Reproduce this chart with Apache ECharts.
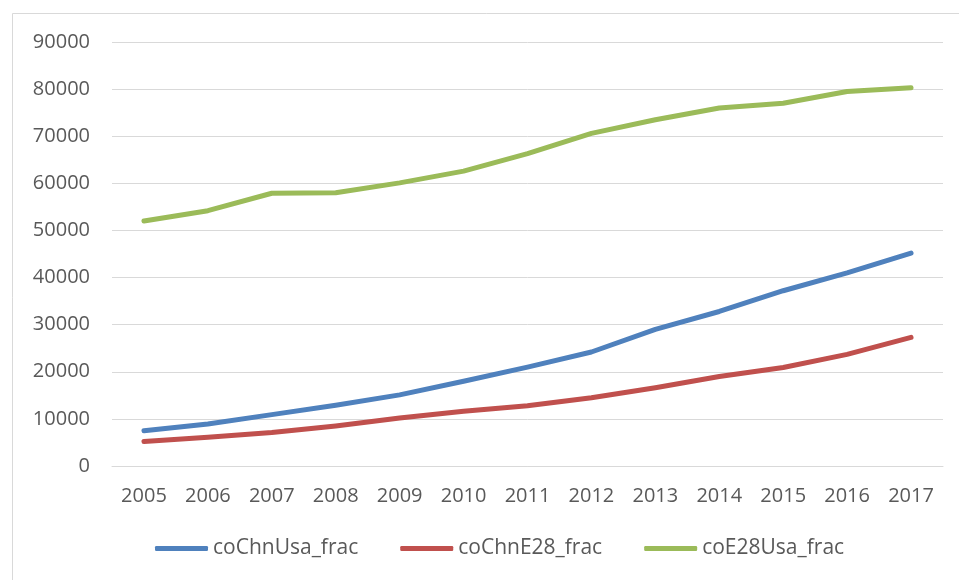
<!DOCTYPE html>
<html>
<head>
<meta charset="utf-8">
<script src="https://cdn.jsdelivr.net/npm/echarts@6/dist/echarts.min.js"></script>
<style>
html,body{margin:0;padding:0;background:#fff;}
#main{width:959px;height:580px;}
</style>
</head>
<body>
<div id="main"></div>
<script>
// years on the x axis
var years = ['2005','2006','2007','2008','2009','2010','2011','2012','2013','2014','2015','2016','2017'];
// series values
var chnUsa = [7500, 8900, 10900, 12900, 15100, 18000, 21000, 24200, 29000, 32800, 37200, 41000, 45200];
var chnE28 = [5200, 6100, 7100, 8500, 10200, 11600, 12800, 14500, 16600, 19000, 20900, 23700, 27300];
var e28Usa = [52000, 54200, 57900, 58000, 60100, 62600, 66300, 70600, 73500, 76000, 77000, 79500, 80300];
var seriesNames = ['coChnUsa_frac', 'coChnE28_frac', 'coE28Usa_frac'];

var font = 'Open Sans';
var txtColor = '#595959';

var myChart = echarts.init(document.getElementById('main'));

function mkLine(name, data, color){
  return {
    name: name,
    type: 'line',
    data: data,
    symbol: 'none',
    lineStyle: {width: 5, color: color, cap: 'round', join: 'round'},
    itemStyle: {color: color}
  };
}

var option = {
  animation: false,
  backgroundColor: '#fff',
  graphic: [{
    type: 'rect',
    shape: {x: 12.5, y: 13.5, width: 1200, height: 1200},
    style: {fill: 'none', stroke: '#d9d9d9', lineWidth: 1},
    silent: true
  }],
  grid: {left: 112, right: 16, top: 42, bottom: 114},
  legend: {
    data: seriesNames,
    bottom: 16,
    left: 150,
    itemWidth: 53,
    itemHeight: 5,
    itemGap: 42,
    icon: 'roundRect',
    textStyle: {fontFamily: font, fontSize: 21, color: txtColor}
  },
  xAxis: {
    type: 'category',
    data: years,
    boundaryGap: true,
    axisLine: {show: true, lineStyle: {color: '#d9d9d9', width: 1}},
    axisTick: {show: false},
    axisLabel: {fontFamily: font, fontSize: 20, color: txtColor, margin: 20}
  },
  yAxis: {
    type: 'value',
    min: 0,
    max: 90000,
    interval: 10000,
    axisLine: {show: false},
    axisTick: {show: false},
    splitLine: {lineStyle: {color: '#d9d9d9', width: 1}},
    axisLabel: {
      fontFamily: font, fontSize: 20, color: txtColor, margin: 22,
      formatter: function(v){ return String(v); }
    }
  },
  series: [
    mkLine(seriesNames[0], chnUsa, '#4f81bd'),
    mkLine(seriesNames[1], chnE28, '#c0504d'),
    mkLine(seriesNames[2], e28Usa, '#9bbb59')
  ]
};
myChart.setOption(option);
</script>
</body>
</html>
